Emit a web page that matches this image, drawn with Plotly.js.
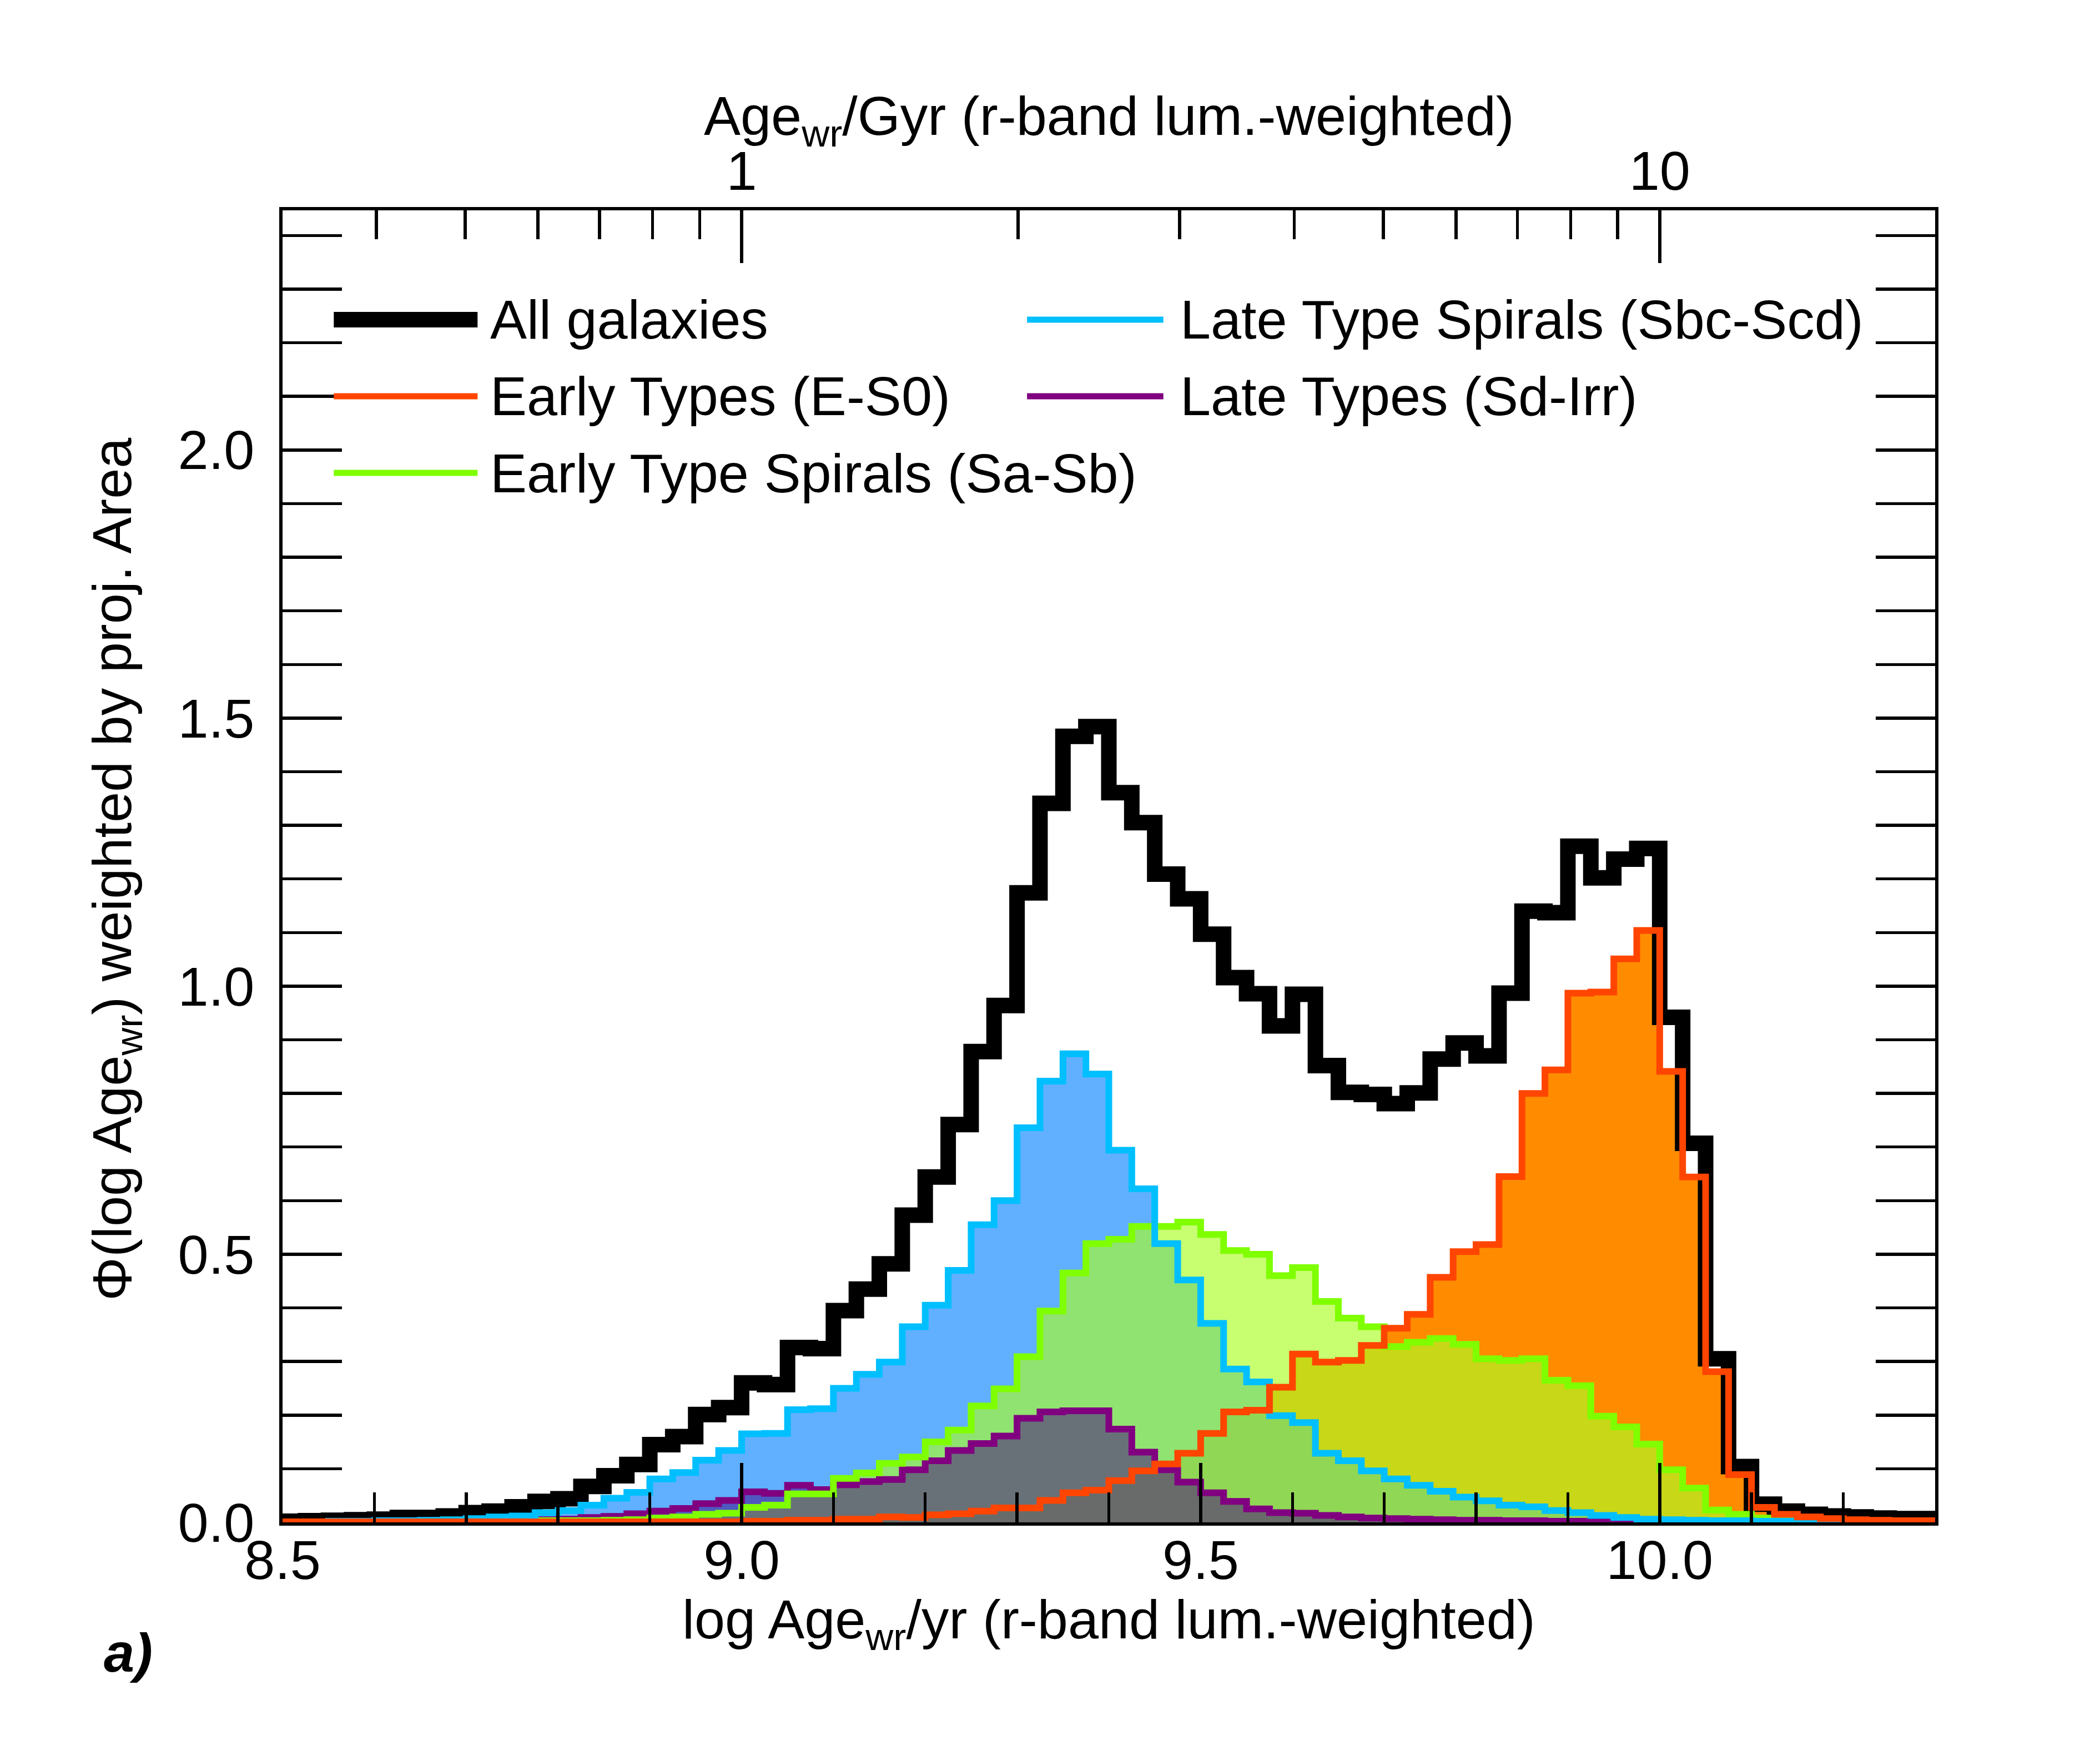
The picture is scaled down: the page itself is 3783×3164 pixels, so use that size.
<!DOCTYPE html>
<html>
<head>
<meta charset="utf-8">
<script src="https://cdn.plot.ly/plotly-3.0.1.min.js"></script>
<style>
  html, body { margin: 0; padding: 0; background: #fff; }
  #graph { width: 3783px; height: 3164px; }
</style>
</head>
<body>
<div id="graph"></div>
<script>
// bin edges in log Age (yr), 0.025 dex bins
const binEdges = [8.5, 8.525, 8.55, 8.575, 8.6, 8.625, 8.65, 8.675, 8.7, 8.725,
    8.75, 8.775, 8.8, 8.825, 8.85, 8.875, 8.9, 8.925, 8.95, 8.975,
    9.0, 9.025, 9.05, 9.075, 9.1, 9.125, 9.15, 9.175, 9.2, 9.225,
    9.25, 9.275, 9.3, 9.325, 9.35, 9.375, 9.4, 9.425, 9.45, 9.475,
    9.5, 9.525, 9.55, 9.575, 9.6, 9.625, 9.65, 9.675, 9.7, 9.725,
    9.75, 9.775, 9.8, 9.825, 9.85, 9.875, 9.9, 9.925, 9.95, 9.975,
    10.0, 10.025, 10.05, 10.075, 10.1, 10.125, 10.15, 10.175, 10.2, 10.225,
    10.25, 10.275, 10.3];

// Phi per bin (one value per bin, 72 bins)
const allGalaxies = [0.002, 0.003, 0.004, 0.005, 0.006, 0.009, 0.009, 0.012, 0.018, 0.021,
    0.029, 0.039, 0.044, 0.067, 0.087, 0.108, 0.145, 0.160, 0.201, 0.214,
    0.260, 0.257, 0.326, 0.324, 0.395, 0.435, 0.482, 0.573, 0.644, 0.742,
    0.878, 0.964, 1.174, 1.341, 1.466, 1.484, 1.361, 1.305, 1.209, 1.163,
    1.097, 1.016, 0.986, 0.926, 0.985, 0.852, 0.802, 0.798, 0.781, 0.801,
    0.864, 0.894, 0.870, 0.987, 1.140, 1.137, 1.261, 1.202, 1.237, 1.257,
    0.942, 0.707, 0.305, 0.104, 0.034, 0.021, 0.015, 0.012, 0.010, 0.008,
    0.007, 0.007];

const earlyTypes = [0.001, 0.001, 0.001, 0.001, 0.001, 0.001, 0.001, 0.001, 0.001, 0.001,
    0.001, 0.001, 0.001, 0.001, 0.001, 0.001, 0.001, 0.001, 0.001, 0.001,
    0.002, 0.002, 0.004, 0.004, 0.006, 0.006, 0.010, 0.009, 0.014, 0.016,
    0.021, 0.027, 0.027, 0.041, 0.055, 0.060, 0.078, 0.096, 0.109, 0.129,
    0.166, 0.206, 0.209, 0.252, 0.314, 0.299, 0.302, 0.330, 0.362, 0.388,
    0.457, 0.505, 0.518, 0.645, 0.800, 0.844, 0.987, 0.989, 1.051, 1.104,
    0.841, 0.644, 0.281, 0.089, 0.028, 0.015, 0.010, 0.007, 0.005, 0.004,
    0.003, 0.003];

const earlyTypeSpirals = [0.000, 0.000, 0.000, 0.000, 0.000, 0.001, 0.001, 0.001, 0.001, 0.002,
    0.002, 0.003, 0.003, 0.003, 0.004, 0.005, 0.008, 0.010, 0.015, 0.017,
    0.028, 0.032, 0.053, 0.053, 0.082, 0.092, 0.110, 0.122, 0.150, 0.172,
    0.217, 0.249, 0.309, 0.394, 0.465, 0.520, 0.528, 0.552, 0.552, 0.560,
    0.537, 0.507, 0.500, 0.460, 0.475, 0.412, 0.381, 0.365, 0.328, 0.336,
    0.343, 0.332, 0.305, 0.302, 0.305, 0.265, 0.255, 0.198, 0.178, 0.146,
    0.098, 0.064, 0.023, 0.015, 0.008, 0.004, 0.003, 0.002, 0.001, 0.001,
    0.001, 0.001];

const lateTypeSpirals = [0.001, 0.001, 0.002, 0.002, 0.003, 0.003, 0.004, 0.005, 0.007, 0.010,
    0.012, 0.018, 0.022, 0.032, 0.045, 0.056, 0.081, 0.093, 0.116, 0.134,
    0.165, 0.166, 0.210, 0.212, 0.250, 0.276, 0.299, 0.365, 0.405, 0.470,
    0.555, 0.600, 0.736, 0.823, 0.874, 0.836, 0.694, 0.622, 0.520, 0.452,
    0.371, 0.286, 0.262, 0.199, 0.186, 0.129, 0.115, 0.096, 0.081, 0.069,
    0.058, 0.047, 0.040, 0.032, 0.029, 0.022, 0.018, 0.013, 0.009, 0.006,
    0.005, 0.004, 0.003, 0.003, 0.002, 0.002, 0.002, 0.001, 0.001, 0.001,
    0.001, 0.001];

const lateTypes = [0.000, 0.000, 0.000, 0.000, 0.000, 0.001, 0.001, 0.001, 0.002, 0.003,
    0.004, 0.005, 0.006, 0.009, 0.011, 0.016, 0.021, 0.026, 0.035, 0.041,
    0.057, 0.054, 0.069, 0.061, 0.070, 0.076, 0.080, 0.098, 0.115, 0.134,
    0.147, 0.161, 0.194, 0.206, 0.208, 0.208, 0.174, 0.131, 0.098, 0.075,
    0.055, 0.039, 0.025, 0.018, 0.017, 0.013, 0.010, 0.008, 0.007, 0.006,
    0.005, 0.004, 0.004, 0.003, 0.003, 0.002, 0.002, 0.001, 0.001, 0.001,
    0.001, 0.001, 0.001, 0.001, 0.001, 0.001, 0.000, 0.000, 0.000, 0.000,
    0.000, 0.000];

const seriesNames = ['All galaxies', 'Early Types (E-S0)', 'Early Type Spirals (Sa-Sb)',
    'Late Type Spirals (Sbc-Scd)', 'Late Types (Sd-Irr)'];

// top axis, age in Gyr
const gyrTicks = [1, 10];
const gyrTickText = ['1', '10'];
const gyrMinorTicks = [0.4, 0.5, 0.6, 0.7, 0.8, 0.9, 2, 3, 4, 5, 6, 7, 8, 9];

const yTicks = [0, 0.5, 1.0, 1.5, 2.0];

const FONT = 'Liberation Sans, Arial, Helvetica, sans-serif';
const FS = 99;

const lineColors = ['#000000', '#FF4500', '#7FFF00', '#00BFFF', '#800080'];
const fillColors = [null, 'rgb(255,140,0)', 'rgba(171,255,35,0.65)', 'rgba(28,142,255,0.7)', 'rgba(64,0,128,0.5)'];
const lineWidths = [28, 12, 12, 12, 12];

// repeat last bin value so the step reaches the right edge of the last bin
function stepY(vals) {
    return vals.concat([vals[vals.length - 1]]);
}

function fillTrace(vals, color) {
    return {
        x: binEdges, y: stepY(vals), mode: 'lines',
        line: { shape: 'hv', width: 0 },
        fill: 'tozeroy', fillcolor: color,
        hoverinfo: 'skip', showlegend: false
    };
}

function lineTrace(vals, color, width) {
    return {
        x: binEdges, y: stepY(vals), mode: 'lines',
        line: { shape: 'hv', width: width, color: color },
        hoverinfo: 'skip', showlegend: false
    };
}

// fills first (orange, blue, green, purple), then the step lines on top
var traces = [
    fillTrace(earlyTypes, fillColors[1]),
    fillTrace(lateTypeSpirals, fillColors[3]),
    fillTrace(earlyTypeSpirals, fillColors[2]),
    fillTrace(lateTypes, fillColors[4]),
    lineTrace(allGalaxies, lineColors[0], lineWidths[0]),
    lineTrace(lateTypes, lineColors[4], lineWidths[4]),
    lineTrace(earlyTypeSpirals, lineColors[2], lineWidths[2]),
    lineTrace(lateTypeSpirals, lineColors[3], lineWidths[3]),
    lineTrace(earlyTypes, lineColors[1], lineWidths[1]),
    // empty trace so the Gyr axis gets drawn
    { x: [], y: [], xaxis: 'x2', yaxis: 'y', mode: 'lines', showlegend: false, hoverinfo: 'skip' }
];

// hand made legend: two columns, long line samples
var shapes = [];
var annotations = [];
const legendRows = [0.9167, 0.8583, 0.7999];
seriesNames.forEach(function (name, i) {
    var col = i < 3 ? 0 : 1;
    var row = i < 3 ? i : i - 3;
    var x0 = col === 0 ? 0.031 : 0.4505;
    var x1 = col === 0 ? 0.118 : 0.533;
    var y = legendRows[row];
    shapes.push({
        type: 'line', xref: 'paper', yref: 'paper',
        x0: x0, x1: x1, y0: y, y1: y,
        line: { color: lineColors[i], width: i === 0 ? 28 : 11 }
    });
    annotations.push({
        xref: 'paper', yref: 'paper', x: col === 0 ? 0.1249 : 0.5425, y: y,
        xanchor: 'left', yanchor: 'middle', showarrow: false,
        text: name, font: { family: FONT, size: FS, color: '#000' }
    });
});

annotations.push({
    xref: 'paper', yref: 'paper', x: 0.5, y: 1.069, xanchor: 'center', yanchor: 'middle',
    showarrow: false, text: 'Age<sub>wr</sub>/Gyr (r-band lum.-weighted)',
    font: { family: FONT, size: FS, color: '#000' }
});
annotations.push({
    xref: 'paper', yref: 'paper', x: 0.5, y: -0.077, xanchor: 'center', yanchor: 'middle',
    showarrow: false, text: 'log Age<sub>wr</sub>/yr (r-band lum.-weighted)',
    font: { family: FONT, size: FS, color: '#000' }
});
annotations.push({
    xref: 'paper', yref: 'paper', x: -0.101, y: 0.498, xanchor: 'center', yanchor: 'middle',
    textangle: -90, showarrow: false, text: 'Φ(log Age<sub>wr</sub>) weighted by proj. Area',
    font: { family: FONT, size: FS, color: '#000' }
});
annotations.push({
    xref: 'paper', yref: 'paper', x: -0.0934, y: -0.0994, xanchor: 'center', yanchor: 'middle',
    showarrow: false, text: '<b><i>a)</i></b>',
    font: { family: FONT, size: FS, color: '#000' }
});

const layout = {
    width: 3783,
    height: 3164,
    margin: { l: 509, r: 297, t: 379, b: 421, pad: 0 },
    paper_bgcolor: '#fff',
    plot_bgcolor: '#fff',
    showlegend: false,
    font: { family: FONT, size: FS, color: '#000' },
    xaxis: {
        range: [8.5, 10.3],
        tick0: 8.5, dtick: 0.5, tickformat: '.1f',
        ticks: 'inside', ticklen: 107, tickwidth: 5.5, tickcolor: '#000',
        minor: { dtick: 0.1, tick0: 8.5, ticks: 'inside', ticklen: 54, tickwidth: 5.5, tickcolor: '#000' },
        showline: true, linewidth: 6, linecolor: '#000', mirror: true,
        showgrid: false, zeroline: false,
        tickfont: { family: FONT, size: FS, color: '#000' },
        ticklabelstandoff: -23
    },
    xaxis2: {
        type: 'log',
        overlaying: 'x', side: 'top', anchor: 'y',
        range: [-0.5, 1.3],
        tickmode: 'array', tickvals: gyrTicks, ticktext: gyrTickText,
        ticks: 'inside', ticklen: 95, tickwidth: 5.5, tickcolor: '#000',
        minor: { tickmode: 'array', tickvals: gyrMinorTicks, ticks: 'inside', ticklen: 52, tickwidth: 5.5, tickcolor: '#000' },
        showline: true, linewidth: 6, linecolor: '#000',
        showgrid: false, zeroline: false,
        tickfont: { family: FONT, size: FS, color: '#000' },
        ticklabelstandoff: -9
    },
    yaxis: {
        range: [0, 2.447],
        tickmode: 'array', tickvals: yTicks, tickformat: '.1f',
        ticks: 'inside', ticklen: 107, tickwidth: 5.5, tickcolor: '#000',
        minor: { dtick: 0.1, tick0: 0, ticks: 'inside', ticklen: 54, tickwidth: 5.5, tickcolor: '#000' },
        showline: true, linewidth: 6, linecolor: '#000', mirror: 'allticks',
        showgrid: false, zeroline: false,
        tickfont: { family: FONT, size: FS, color: '#000' },
        ticklabelstandoff: 25
    },
    shapes: shapes,
    annotations: annotations
};

const config = { displayModeBar: false, staticPlot: true };

Plotly.newPlot('graph', traces, layout, config);
</script>
</body>
</html>
